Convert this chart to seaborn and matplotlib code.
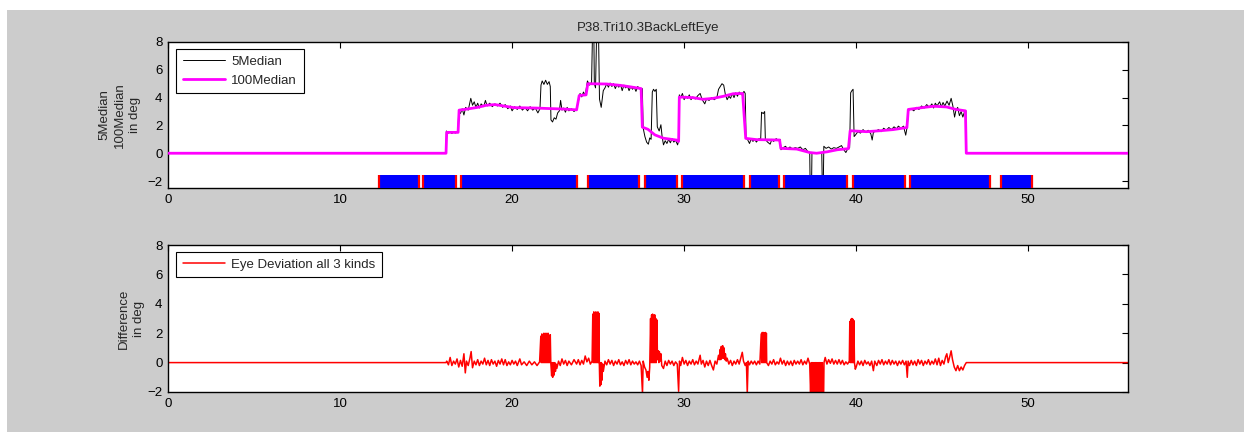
import matplotlib
matplotlib.use("Agg")
import matplotlib.pyplot as plt
from matplotlib.patches import Rectangle
import seaborn as sns

# 5Median trace (time in s, angle in deg)
median5_t = [0, 16.16, 16.18, 16.3, 16.4, 16.5, 16.6, 16.7, 16.85, 16.9, 17.0, 17.1, 17.2, 17.3, 17.45,
             17.6, 17.7, 17.8, 17.9, 18.0, 18.1, 18.2, 18.35, 18.45, 18.55, 18.7, 18.85, 19.0, 19.15,
             19.3, 19.45, 19.6, 19.75, 19.9, 20.0, 20.15, 20.3, 20.45, 20.6, 20.75, 20.9, 21.05, 21.2,
             21.35, 21.5, 21.62, 21.68, 21.75, 21.85, 21.95, 22.05, 22.15, 22.22, 22.26, 22.35, 22.45,
             22.55, 22.65, 22.75, 22.82, 22.9, 23.0, 23.1, 23.2, 23.3, 23.45, 23.6, 23.75, 23.85, 23.95,
             24.05, 24.15, 24.25, 24.38, 24.5, 24.62, 24.68, 24.75, 24.78, 24.85, 24.92, 25.02, 25.08,
             25.18, 25.3, 25.4, 25.5, 25.6, 25.7, 25.8, 25.9, 26.0, 26.1, 26.2, 26.3, 26.4, 26.5, 26.6,
             26.7, 26.8, 26.9, 27.0, 27.1, 27.2, 27.3, 27.45, 27.57, 27.62, 27.72, 27.82, 27.92, 28.0,
             28.08, 28.15, 28.22, 28.3, 28.38, 28.44, 28.55, 28.65, 28.72, 28.8, 28.9, 29.0, 29.1, 29.2,
             29.3, 29.4, 29.5, 29.62, 29.68, 29.72, 29.8, 29.9, 30.0, 30.1, 30.2, 30.3, 30.4, 30.5,
             30.65, 30.8, 30.93, 31.05, 31.2, 31.3, 31.45, 31.6, 31.75, 31.9, 32.0, 32.1, 32.2, 32.3,
             32.4, 32.5, 32.6, 32.7, 32.8, 32.9, 33.0, 33.1, 33.2, 33.35, 33.48, 33.55, 33.6, 33.7, 33.8,
             33.9, 34.0, 34.1, 34.2, 34.35, 34.45, 34.5, 34.6, 34.68, 34.72, 34.85, 35.0, 35.1, 35.2,
             35.35, 35.5, 35.58, 35.63, 35.75, 35.9, 36.0, 36.15, 36.3, 36.45, 36.6, 36.75, 36.9, 37.05,
             37.2, 37.3, 37.33, 37.4, 37.43, 37.55, 37.7, 37.85, 38.0, 38.04, 38.08, 38.12, 38.25, 38.4,
             38.55, 38.7, 38.85, 39.0, 39.15, 39.25, 39.4, 39.5, 39.62, 39.68, 39.75, 39.82, 39.88,
             39.95, 40.1, 40.25, 40.4, 40.55, 40.7, 40.85, 40.93, 41.0, 41.15, 41.3, 41.45, 41.6, 41.75,
             41.9, 42.05, 42.2, 42.35, 42.45, 42.6, 42.75, 42.88, 42.95, 43.05, 43.2, 43.35, 43.5, 43.65,
             43.8, 43.95, 44.1, 44.25, 44.4, 44.5, 44.6, 44.7, 44.85, 44.95, 45.05, 45.15, 45.28, 45.4,
             45.52, 45.62, 45.72, 45.8, 45.9, 46.0, 46.1, 46.2, 46.3, 46.38, 46.4, 55.8]
median5_v = [0, 0, 1.6, 1.45, 1.55, 1.42, 1.52, 1.45, 1.55, 3.0, 2.86, 3.2, 2.75, 3.3, 3.1,
             3.95, 3.45, 3.7, 3.3, 3.6, 3.25, 3.55, 3.35, 3.8, 3.4, 3.6, 3.35, 3.55, 3.4,
             3.6, 3.3, 3.5, 3.2, 3.4, 3.05, 3.35, 3.15, 3.4, 3.1, 3.3, 3.05, 3.35, 3.1,
             3.25, 2.9, 3.2, 4.9, 5.2, 4.95, 5.25, 4.95, 5.15, 4.8, 2.4, 2.25, 2.55,
             2.45, 2.9, 3.05, 3.8, 3.1, 3.25, 2.95, 3.3, 3.05, 3.2, 3.0, 3.2, 3.7, 4.3,
             4.05, 4.4, 4.15, 5.2, 4.9, 5.1, 9.0, 9.0, 5.0, 4.7, 9.0, 9.0, 3.9,
             3.3, 4.5, 4.7, 5.0, 4.75, 5.05, 4.8, 5.0, 4.65, 4.95, 4.75, 4.95, 4.5, 4.9, 4.7,
             4.85, 4.5, 4.8, 4.6, 4.75, 4.45, 4.8, 4.6, 4.65, 1.8, 1.2, 0.8, 0.65, 1.1,
             1.0, 4.4, 4.6, 4.45, 4.6, 1.9, 1.6, 2.05, 1.2, 0.6, 0.9, 0.7, 1.0, 0.75,
             1.05, 0.8, 0.95, 0.6, 0.9, 4.2, 4.0, 4.3, 3.85, 4.1, 3.95, 4.2, 3.85, 4.05,
             3.9, 4.15, 4.3, 3.85, 3.55, 3.9, 3.8, 4.0, 3.85, 4.0, 4.6, 4.8, 5.0, 4.9,
             4.2, 3.85, 4.1, 3.95, 4.3, 4.0, 4.35, 4.1, 4.4, 4.2, 4.45, 4.3, 1.1, 0.95, 0.7,
             1.05, 0.85, 1.0, 0.8, 1.05, 1.0, 2.95, 2.85, 3.0, 1.0, 0.8, 0.65, 1.0, 0.85,
             1.05, 0.9, 1.0, 0.25, 0.4, 0.5, 0.3, 0.45, 0.3, 0.4, 0.35, 0.45, 0.25, 0.35,
             0.1, 0.05, -3.0, -3.0, 0.05, 0.0, 0.05, 0.0, 0.05, -3.0, -3.0, 0.5, 0.35, 0.45,
             0.3, 0.4, 0.35, 0.45, 0.55, 0.3, 0.05, 0.3, 0.4, 4.35, 4.5, 4.6, 1.2,
             1.3, 1.55, 1.45, 1.7, 1.5, 1.65, 1.4, 0.95, 1.5, 1.6, 1.7, 1.55, 1.8, 1.65,
             1.85, 1.7, 1.9, 1.75, 1.95, 1.8, 1.95, 1.3, 1.8, 3.1, 3.2, 3.05, 3.3, 3.15,
             3.4, 3.25, 3.5, 3.3, 3.55, 3.25, 3.6, 3.4, 3.7, 3.35, 3.65, 3.4, 3.75, 3.45,
             3.95, 3.4, 2.6, 3.1, 3.3, 2.7, 3.0, 2.6, 3.0, 3.05, 0.0, 0.0]

# 100Median trace
median100_t = [0, 16.16, 16.2, 16.86, 16.92, 17.5, 18.0, 18.5, 19.0, 19.5, 20.1, 21.4, 22.0, 23.0,
               23.75, 23.9, 24.3, 24.4, 25.5, 26.3, 26.85, 27.5, 27.57, 27.9, 28.3, 28.8, 29.55,
               29.68, 29.72, 30.5, 31.1, 31.7, 32.3, 32.85, 33.4, 33.58, 34.2, 35.55, 35.62, 36.55,
               37.3, 37.7, 38.3, 38.9, 39.55, 39.65, 40.6, 41.4, 42.15, 42.95, 43.03, 43.7, 44.5,
               45.25, 45.8, 46.35, 46.4, 55.8]
median100_v = [0, 0, 1.5, 1.5, 3.1, 3.2, 3.3, 3.45, 3.5, 3.4, 3.28, 3.25, 3.22, 3.18,
               3.12, 4.15, 4.2, 5.0, 4.98, 4.88, 4.78, 4.65, 1.88, 1.72, 1.32, 1.08, 0.95,
               0.85, 4.04, 4.0, 3.88, 3.95, 4.1, 4.28, 4.3, 1.07, 0.98, 0.95, 0.35, 0.3,
               0.05, 0.0, 0.1, 0.25, 0.33, 1.62, 1.55, 1.62, 1.7, 1.85, 3.15, 3.26, 3.38,
               3.33, 3.15, 3.05, 0.0, 0.0]

# Eye deviation (difference) trace
diff_t = [0, 16.16, 16.2, 16.3, 16.4, 16.5, 16.6, 16.7, 16.8, 16.9, 17.0, 17.1, 17.2, 17.28, 17.35,
          17.45, 17.55, 17.62, 17.7, 17.8, 17.9, 18.0, 18.1, 18.2, 18.3, 18.4, 18.5, 18.6, 18.7,
          18.8, 18.9, 19.0, 19.1, 19.2, 19.3, 19.4, 19.5, 19.6, 19.7, 19.8, 19.9, 20.0, 20.1, 20.2,
          20.3, 20.45, 20.55, 20.7, 20.85, 21.0, 21.15, 21.3, 21.45, 21.6,
          21.67, 21.7, 21.73, 21.76, 21.79, 21.82, 21.85, 21.88, 21.91, 21.94, 21.97, 22.0, 22.03,
          22.06, 22.09, 22.12, 22.15, 22.18, 22.22, 22.25,
          22.3, 22.33, 22.36, 22.4, 22.44, 22.48, 22.52, 22.56, 22.6, 22.7, 22.8, 22.9, 23.0, 23.1,
          23.2, 23.3, 23.45, 23.6, 23.75, 23.85, 23.95, 24.05, 24.15, 24.25, 24.35, 24.45, 24.55,
          24.65,
          24.69, 24.72, 24.75, 24.78, 24.81, 24.84, 24.87, 24.9, 24.93, 24.96, 24.99, 25.02, 25.05,
          25.07,
          25.1, 25.13, 25.16, 25.19, 25.22, 25.26, 25.3, 25.4, 25.5, 25.6, 25.7, 25.8, 25.9, 26.0,
          26.1, 26.2, 26.3, 26.4, 26.5, 26.6, 26.7, 26.8, 26.9, 27.0, 27.1, 27.2, 27.3, 27.4, 27.5,
          27.58, 27.62, 27.7, 27.78, 27.85, 27.9, 27.95, 28.0,
          28.05, 28.08, 28.11, 28.14, 28.17, 28.2, 28.23, 28.26, 28.29, 28.32, 28.35, 28.38, 28.42,
          28.45,
          28.5, 28.53, 28.56, 28.6, 28.65, 28.7, 28.8, 28.9, 29.0, 29.1, 29.2, 29.3, 29.4, 29.5,
          29.6, 29.68, 29.73, 29.8, 29.9, 30.0, 30.1, 30.2, 30.3, 30.4, 30.5, 30.6, 30.7, 30.8,
          30.93, 31.0, 31.1, 31.2, 31.3, 31.4, 31.5, 31.6, 31.7, 31.8, 31.9,
          32.0, 32.05, 32.1, 32.13, 32.16, 32.2, 32.24, 32.28, 32.32, 32.36, 32.4, 32.45, 32.5,
          32.6, 32.7, 32.8, 32.9, 33.0, 33.1, 33.2, 33.3, 33.38, 33.45, 33.55, 33.62, 33.67, 33.72,
          33.8, 33.9, 34.0, 34.1, 34.2, 34.3, 34.4,
          34.48, 34.51, 34.54, 34.57, 34.6, 34.63, 34.66, 34.69, 34.72, 34.75, 34.78, 34.8,
          34.9, 35.0, 35.1, 35.2, 35.3, 35.4, 35.5, 35.6, 35.7, 35.8, 35.9, 36.0, 36.1, 36.2, 36.3,
          36.4, 36.5, 36.6, 36.7, 36.8, 36.9, 37.0, 37.1, 37.2, 37.3,
          37.35, 37.39, 37.43, 37.47, 37.51, 37.55, 37.59, 37.63, 37.67, 37.71, 37.75, 37.79,
          37.83, 37.87, 37.91, 37.95, 37.99, 38.03, 38.07, 38.11, 38.13,
          38.15, 38.2, 38.3, 38.4, 38.5, 38.6, 38.7, 38.8, 38.9, 39.0, 39.1, 39.2, 39.3, 39.4,
          39.5, 39.6,
          39.63, 39.66, 39.69, 39.72, 39.75, 39.78, 39.81, 39.84, 39.87, 39.9,
          39.95, 40.0, 40.1, 40.2, 40.3, 40.4, 40.5, 40.6, 40.7, 40.8, 40.9, 41.0, 41.08, 41.2,
          41.3, 41.4, 41.5, 41.6, 41.7, 41.8, 41.9, 42.0, 42.1, 42.2, 42.3, 42.4, 42.5, 42.6,
          42.7, 42.8, 42.9, 42.97, 43.02, 43.1, 43.2, 43.3, 43.4, 43.5, 43.6, 43.7, 43.8, 43.9,
          44.0, 44.1, 44.2, 44.3, 44.4, 44.5, 44.6, 44.7, 44.8, 44.9, 45.0, 45.1, 45.2, 45.27,
          45.35, 45.45, 45.52, 45.6, 45.7, 45.8, 45.9, 46.0, 46.1, 46.2, 46.3, 46.4, 55.8]
diff_v = [0, 0, 0.1, -0.15, 0.35, -0.2, 0.1, -0.1, 0.25, -0.3, 0.15, -0.25, 0.6, -0.7, 0.1,
          -0.2, 0.3, 0.75, -0.35, 0.1, -0.15, 0.2, -0.2, 0.1, -0.1, 0.3, -0.15, 0.15, -0.2,
          0.2, -0.1, 0.1, -0.25, 0.15, -0.1, 0.25, -0.15, 0.2, -0.2, 0.05, -0.15, 0.15, -0.1, 0.1,
          -0.2, 0.25, -0.15, 0.05, -0.2, 0.1, -0.15, 0.05, -0.2, 0.05,
          1.8, 0.0, 1.95, 0.0, 1.85, 0.0, 2.0, 0.0, 1.9, 0.0, 2.0, 0.0, 1.95,
          0.0, 2.0, 0.0, 1.85, 0.0, 1.9, 0.0,
          -0.9, 0.0, -1.0, 0.0, -0.85, 0.0, -0.6, -0.1, -0.4, 0.1, -0.2, 0.25, -0.1, 0.15,
          -0.2, 0.1, -0.15, 0.2, -0.1, 0.2, -0.15, 0.15, -0.1, 0.45, 0.05, 0.3, -0.1,
          0.1,
          3.3, 0.0, 3.45, 0.0, 3.4, 0.0, 3.45, 0.0, 3.4, 0.0, 3.45, 0.0, 3.35,
          0.0,
          -1.6, 0.0, -1.5, 0.0, -1.2, -0.1, -0.6, 0.1, -0.15, 0.2, -0.1, 0.15, -0.2, 0.1,
          -0.1, 0.2, -0.15, 0.05, -0.2, 0.15, -0.1, 0.2, -0.15, 0.1, -0.1, 0.05, -0.15, 0.1, -0.2,
          -2.1, 0.1, -0.3, -0.5, -1.0, -0.6, -1.2, -0.3,
          3.0, 0.0, 3.25, 0.0, 3.3, 0.0, 3.2, 0.0, 3.25, 0.0, 3.0, 0.0, 2.9,
          0.2,
          0.8, 0.0, 0.75, 0.1, 0.6, -0.2, -0.4, 0.1, -0.2, 0.15, -0.1, 0.1, -0.2, 0.05,
          -0.1, -1.95, 0.1, -0.2, 0.35, -0.1, 0.15, -0.2, 0.1, -0.1, 0.2, -0.15, 0.1, -0.1,
          0.5, -0.1, 0.15, -0.3, 0.1, -0.2, 0.15, -0.2, -0.5, 0.1, -0.1,
          0.5, 0.2, 0.9, 0.2, 1.1, 0.3, 1.15, 0.3, 1.0, 0.2, 0.6, 0.1, 0.3,
          -0.1, 0.15, -0.2, 0.1, -0.1, 0.2, -0.1, 0.35, 0.7, 0.1, -0.2, 0.0, -2.1, 0.1,
          -0.15, 0.1, -0.1, 0.1, -0.15, 0.1, -0.1,
          1.95, 0.0, 2.05, 0.0, 2.05, 0.0, 2.0, 0.0, 2.05, 0.0, 2.0, 0.0,
          -0.2, 0.1, -0.1, 0.2, -0.15, 0.05, -0.1, 0.3, -0.1, 0.15, -0.2, 0.1, -0.15, 0.1, -0.2,
          0.15, -0.1, 0.1, -0.1, 0.2, -0.15, 0.1, -0.1, 0.3, -0.1,
          -2.1, 0.0, -2.1, 0.0, -2.1, 0.0, -2.1, 0.0, -2.1, 0.0, -2.1, 0.0,
          -2.1, 0.0, -2.1, 0.0, -2.1, 0.0, -2.1, -2.1, 0.0,
          0.1, 0.35, -0.1, 0.2, -0.05, 0.25, -0.1, 0.15, -0.1, 0.2, -0.1, 0.15, -0.15, 0.05,
          -0.1, 0.1,
          2.8, 0.0, 2.95, 0.0, 3.0, 0.0, 2.95, 0.0, 2.85, 0.0,
          -0.45, -0.3, 0.1, -0.15, 0.1, -0.2, 0.15, -0.1, 0.05, -0.2, 0.1, -0.55, 0.1, -0.2,
          0.15, -0.1, 0.2, -0.15, 0.1, -0.1, 0.2, -0.15, 0.15, -0.1, 0.1, -0.2, 0.1, -0.1,
          0.15, -0.15, 0.1, -1.0, 0.1, -0.2, 0.15, -0.15, 0.1, -0.2, 0.2, -0.1, 0.15, -0.2,
          0.1, -0.1, 0.2, -0.15, 0.1, -0.1, 0.25, -0.15, 0.3, -0.2, 0.15, -0.1, 0.4, 0.6,
          0.0, 0.45, 0.8, 0.2, -0.3, -0.55, -0.2, -0.55, -0.3, -0.5, -0.2, 0.0, 0.0]

# blue event bars along the bottom of the upper plot
seg_start = [12.27, 14.84, 17.03, 24.4, 27.7, 29.9, 33.8, 35.8, 39.8, 43.1, 48.4]
seg_end = [14.6, 16.75, 23.8, 27.4, 29.6, 33.5, 35.5, 39.45, 42.85, 47.8, 50.2]

x_ticks = [0, 10, 20, 30, 40, 50]
y_ticks = [-2, 0, 2, 4, 6, 8]

sns.set_style("white")
plt.rcParams['font.family'] = ['Liberation Sans', 'DejaVu Sans']
fs = 9.5

W, H = 1244, 432
fig = plt.figure(figsize=(W / 100, H / 100), dpi=100)
fig.patch.set_facecolor('white')
fig.add_artist(Rectangle((7 / W, 0), 1, 1 - 10 / H, transform=fig.transFigure,
                         facecolor='#cccccc', edgecolor='none', zorder=-10))

ax1 = fig.add_axes([168 / W, 1 - 188 / H, 960 / W, 146 / H])
ax2 = fig.add_axes([168 / W, 1 - 392 / H, 960 / W, 147 / H])

sns.lineplot(x=median5_t, y=median5_v, ax=ax1, color='black', linewidth=0.7,
             estimator=None, sort=False, label='5Median', zorder=2)
sns.lineplot(x=median100_t, y=median100_v, ax=ax1, color='#ff00ff', linewidth=2,
             estimator=None, sort=False, label='100Median', zorder=3)

widths = [e - s for s, e in zip(seg_start, seg_end)]
ax1.bar(seg_start, [0.93] * len(seg_start), width=widths, bottom=-2.5, align='edge',
        color='#0000ff', linewidth=0, zorder=4)
ax1.vlines(seg_start + seg_end, -2.5, -1.57, color='red', linewidth=1.6, zorder=5)

sns.lineplot(x=diff_t, y=diff_v, ax=ax2, color='red', linewidth=1.1,
             estimator=None, sort=False, label='Eye Deviation all 3 kinds')

ax1.set_ylim(-2.5, 8)
ax2.set_ylim(-2, 8)
for ax in (ax1, ax2):
    ax.set_facecolor('white')
    ax.set_xlim(0, 55.8)
    ax.set_xticks(x_ticks)
    ax.set_yticks(y_ticks)
    ax.set_xlabel('')
    ax.tick_params(direction='in', top=True, right=True, length=4, width=0.8,
                   labelsize=fs, colors='black', pad=4)
    for sp in ax.spines.values():
        sp.set_visible(True)
        sp.set_color('black')
        sp.set_linewidth(1.0)
    leg = ax.legend(loc='upper left', bbox_to_anchor=(8 / 960, 1 - 7 / 146),
                    borderaxespad=0, fontsize=fs, frameon=True, fancybox=False,
                    framealpha=1, edgecolor='black', handlelength=3.2,
                    handletextpad=0.5, labelspacing=0.5, borderpad=0.5)
    leg.get_frame().set_linewidth(0.8)

ax1.set_title('P38.Tri10.3BackLeftEye', fontsize=fs, pad=8)
ax1.set_ylabel('5Median\n100Median\nin deg', fontsize=fs, linespacing=1.35)
ax2.set_ylabel('Difference\nin deg', fontsize=fs, linespacing=1.35)
ax1.yaxis.set_label_coords(-0.0285, 0.5)
ax2.yaxis.set_label_coords(-0.024, 0.5)

fig.savefig('out.png', dpi=100, facecolor=fig.get_facecolor())
